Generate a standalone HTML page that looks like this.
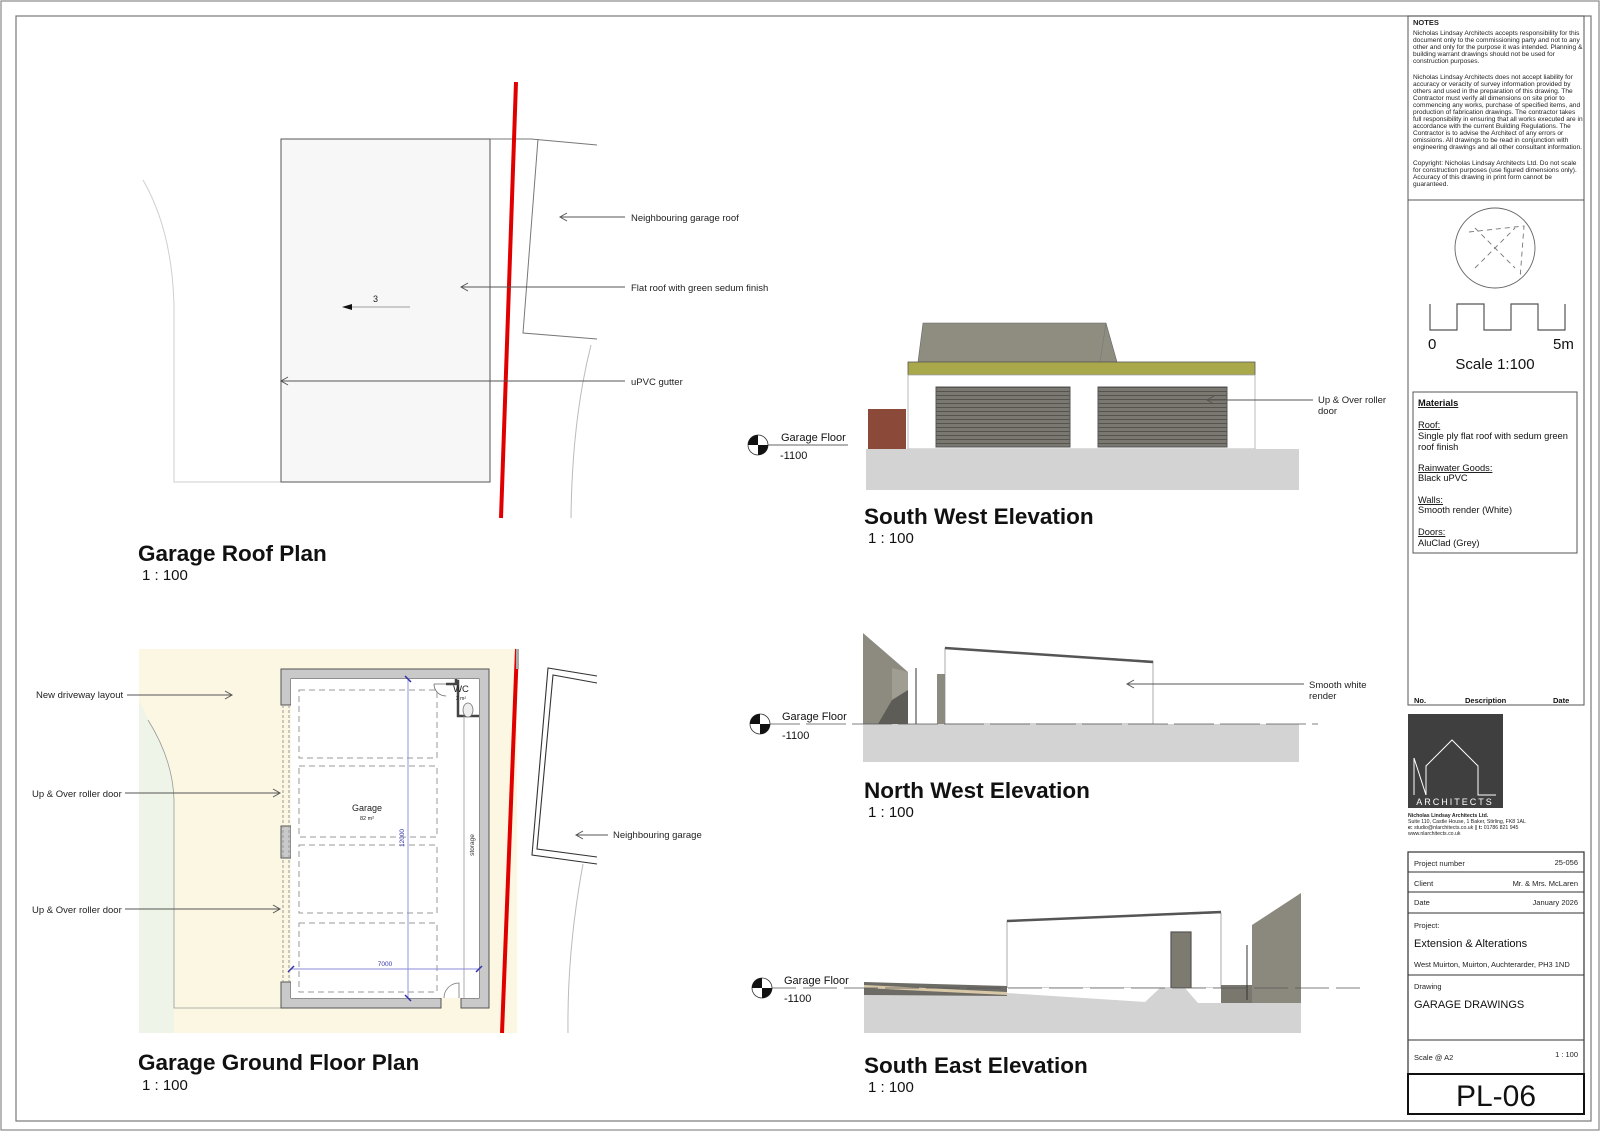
<!DOCTYPE html>
<html><head><meta charset="utf-8"><style>
html,body{margin:0;padding:0;background:#fff;}
svg{display:block;font-family:"Liberation Sans",Arial,sans-serif;}
</style></head><body>
<svg width="1600" height="1131" viewBox="0 0 1600 1131" xmlns="http://www.w3.org/2000/svg">
<defs>
<marker id="oa" markerWidth="10" markerHeight="10" refX="1" refY="5" orient="auto" markerUnits="userSpaceOnUse"><path d="M8,1 L1,5 L8,9" fill="none" stroke="#555" stroke-width="1"/></marker>
<marker id="ob" markerWidth="10" markerHeight="10" refX="8" refY="5" orient="auto" markerUnits="userSpaceOnUse"><path d="M1,1 L8,5 L1,9" fill="none" stroke="#555" stroke-width="1"/></marker>
<pattern id="stripe" width="6" height="4" patternUnits="userSpaceOnUse"><rect width="6" height="4" fill="#7a7870"/><rect y="3" width="6" height="1" fill="#55534d"/></pattern>
</defs>
<rect x="1" y="1" width="1598" height="1129" fill="none" stroke="#888" stroke-width="1.2"/>
<rect x="16" y="16" width="1575" height="1105" fill="none" stroke="#777" stroke-width="1.2"/>

<!-- ROOF PLAN -->
<path d="M143,180 Q172,230 174,305 L174,482 L281,482" fill="none" stroke="#cfcfcf" stroke-width="1"/>
<rect x="281" y="139" width="209" height="343" fill="#f7f7f7" stroke="#555" stroke-width="1"/>
<path d="M490,139 L531,139 L597,145 M538,139 L523,333 L597,339" fill="none" stroke="#777" stroke-width="1"/>
<path d="M591,345 Q572,420 571,518" fill="none" stroke="#bbb" stroke-width="1"/>
<line x1="516" y1="82" x2="501" y2="518" stroke="#e00000" stroke-width="4"/>
<g stroke="#555" stroke-width="0.9" fill="none">
<line x1="560" y1="217" x2="625" y2="217" marker-start="url(#oa)"/>
<line x1="461" y1="287" x2="625" y2="287" marker-start="url(#oa)"/>
<line x1="281" y1="381" x2="625" y2="381" marker-start="url(#oa)"/>
</g>
<line x1="350" y1="307" x2="410" y2="307" stroke="#bbb" stroke-width="1.5"/>
<path d="M342,307 L352,304 L352,310 Z" fill="#111"/>
<text x="373" y="302" font-size="9" fill="#222">3</text>
<g font-size="9.5" fill="#222">
<text x="631" y="221">Neighbouring garage roof</text>
<text x="631" y="291">Flat roof with green sedum finish</text>
<text x="631" y="385">uPVC gutter</text>
</g>
<text x="138" y="561" font-size="22.5" font-weight="bold" fill="#111">Garage Roof Plan</text>
<text x="142" y="580" font-size="15" fill="#111">1 : 100</text>

<!-- GROUND FLOOR PLAN -->
<rect x="139" y="649" width="378" height="384" fill="#fbf7e3"/>
<path d="M139,700 L148,720 Q173,760 174,800 L174,1033 L139,1033 Z" fill="#eef5e8"/>
<path d="M148,720 Q173,760 174,800 L174,1008 L281,1008" fill="none" stroke="#999" stroke-width="0.8"/>
<path d="M281,669 H489 V1008 H461 V998 H479 V679 H291 V705 H281 Z" fill="#c9c9c9" stroke="#555" stroke-width="1"/>
<path d="M281,982 H291 V998 H441 V1008 H281 Z" fill="#c9c9c9" stroke="#555" stroke-width="1"/>
<rect x="281" y="826" width="10" height="32" fill="#c9c9c9" stroke="#555" stroke-width="1"/>
<rect x="291" y="679" width="188" height="319" fill="#fff"/>
<g stroke="#999" stroke-width="1" stroke-dasharray="3,2"><line x1="283" y1="705" x2="283" y2="982"/><line x1="289" y1="705" x2="289" y2="982"/></g>
<path d="M441,1008 V998 M461,1008 V998" stroke="#555"/>
<path d="M444,998 A15,15 0 0 1 459,983 V998" fill="none" stroke="#777" stroke-width="0.8"/>
<path d="M446,684 H456 V679 M456,681 H458 V716 H479" fill="none" stroke="#444" stroke-width="2.5"/>
<path d="M446,684 H434 M434,684 A12,12 0 0 0 446,696" fill="none" stroke="#666" stroke-width="0.8"/>
<ellipse cx="468" cy="710" rx="5" ry="7" fill="#eee" stroke="#777" stroke-width="0.8"/>
<text x="461" y="692" font-size="9.5" text-anchor="middle" fill="#222">WC</text>
<text x="461" y="700" font-size="5" text-anchor="middle" fill="#222">2 m²</text>
<line x1="464" y1="716" x2="464" y2="998" stroke="#999" stroke-width="0.8"/>
<text transform="translate(474,845) rotate(-90)" font-size="6.5" fill="#333" text-anchor="middle">storage</text>
<g fill="none" stroke="#999" stroke-width="1" stroke-dasharray="6,4">
<rect x="299" y="690" width="138" height="68"/>
<rect x="299" y="766" width="138" height="71"/>
<rect x="299" y="845" width="138" height="68"/>
<rect x="299" y="923" width="138" height="69"/>
</g>
<g stroke="#8a8ad8" stroke-width="0.9">
<line x1="408" y1="679" x2="408" y2="998"/><line x1="291" y1="969" x2="479" y2="969"/>
<line x1="405" y1="676" x2="411" y2="682" stroke="#3333aa" stroke-width="1.5"/><line x1="405" y1="995" x2="411" y2="1001" stroke="#3333aa" stroke-width="1.5"/>
<line x1="288" y1="972" x2="294" y2="966" stroke="#3333aa" stroke-width="1.5"/><line x1="476" y1="972" x2="482" y2="966" stroke="#3333aa" stroke-width="1.5"/>
</g>
<text transform="translate(404,838) rotate(-90)" font-size="6.5" fill="#3333aa" text-anchor="middle">12000</text>
<text x="385" y="966" font-size="6.5" fill="#3333aa" text-anchor="middle">7000</text>
<text x="367" y="811" font-size="9" text-anchor="middle" fill="#222">Garage</text>
<text x="367" y="820" font-size="5.5" text-anchor="middle" fill="#222">82 m²</text>
<line x1="517" y1="649" x2="502" y2="1033" stroke="#e00000" stroke-width="4"/>
<rect x="516" y="649" width="3" height="20" fill="#aaa"/>
<path d="M597,676 L548,668 L532,855 L597,864 M597,683 L553,675 L537,849 L597,857" fill="none" stroke="#333" stroke-width="1.1"/>
<path d="M583,864 Q567,950 568,1033" fill="none" stroke="#bbb" stroke-width="1"/>
<g stroke="#555" stroke-width="0.9" fill="none">
<line x1="127" y1="695" x2="232" y2="695" marker-end="url(#ob)"/>
<line x1="125" y1="793" x2="280" y2="793" marker-end="url(#ob)"/>
<line x1="125" y1="909" x2="280" y2="909" marker-end="url(#ob)"/>
<line x1="576" y1="835" x2="608" y2="835" marker-start="url(#oa)"/>
</g>
<g font-size="9.5" fill="#222">
<text x="36" y="698">New driveway layout</text>
<text x="32" y="797">Up &amp; Over roller door</text>
<text x="32" y="913">Up &amp; Over roller door</text>
<text x="613" y="838">Neighbouring garage</text>
</g>
<text x="138" y="1070" font-size="22.5" font-weight="bold" fill="#111">Garage Ground Floor Plan</text>
<text x="142" y="1090" font-size="15" fill="#111">1 : 100</text>

<!-- SOUTH WEST ELEVATION -->
<path d="M918,362 L923,323 L1106,323 L1117,362 Z" fill="#8f8c80" stroke="#666" stroke-width="0.6"/>
<path d="M1106,323 L1100,362" stroke="#777" stroke-width="0.6"/>
<rect x="908" y="362" width="347" height="13" fill="#a9a94c" stroke="#555" stroke-width="0.8"/>
<rect x="908" y="375" width="347" height="74" fill="#fff" stroke="#aaa" stroke-width="0.8"/>
<rect x="936" y="387" width="134" height="60" fill="url(#stripe)" stroke="#555" stroke-width="1"/>
<rect x="1098" y="387" width="129" height="60" fill="url(#stripe)" stroke="#555" stroke-width="1"/>
<rect x="868" y="409" width="38" height="40" fill="#8b4a39"/>
<rect x="866" y="449" width="433" height="41" fill="#d3d3d3"/>
<line x1="758" y1="445" x2="848" y2="445" stroke="#333" stroke-width="0.8"/>
<g stroke="#555" stroke-width="0.9" fill="none"><line x1="1207" y1="400" x2="1313" y2="400" marker-start="url(#oa)"/></g>
<text x="1318" y="403" font-size="9.5" fill="#222">Up &amp; Over roller</text>
<text x="1318" y="414" font-size="9.5" fill="#222">door</text>
<text x="781" y="441" font-size="11" fill="#111">Garage Floor</text>
<text x="780" y="459" font-size="11" fill="#111">-1100</text>
<text x="864" y="524" font-size="22.5" font-weight="bold" fill="#111">South West Elevation</text>
<text x="868" y="543" font-size="15" fill="#111">1 : 100</text>

<!-- NORTH WEST ELEVATION -->
<path d="M863,633 L908,672 L908,724 L863,724 Z" fill="#8d8a80"/>
<path d="M892,668 L908,672 L908,724 L892,724 Z" fill="#a09d93"/>
<path d="M892,700 L908,690 L908,724 L878,724 Z" fill="#5e5c57"/>
<rect x="937" y="674" width="8" height="50" fill="#8d8a80"/>
<line x1="916" y1="668" x2="916" y2="724" stroke="#333" stroke-width="1"/>
<path d="M945,648 L1153,661 L1153,724 L945,724 Z" fill="#fff" stroke="#888" stroke-width="0.7"/>
<line x1="945" y1="648" x2="1153" y2="662" stroke="#555" stroke-width="2.5"/>
<rect x="863" y="724" width="436" height="38" fill="#d3d3d3"/>
<line x1="760" y1="724" x2="1318" y2="724" stroke="#555" stroke-width="0.8" stroke-dasharray="40,6"/>
<g stroke="#555" stroke-width="0.9" fill="none"><line x1="1127" y1="684" x2="1304" y2="684" marker-start="url(#oa)"/></g>
<text x="1309" y="688" font-size="9.5" fill="#222">Smooth white</text>
<text x="1309" y="699" font-size="9.5" fill="#222">render</text>
<text x="782" y="720" font-size="11" fill="#111">Garage Floor</text>
<text x="782" y="739" font-size="11" fill="#111">-1100</text>
<text x="864" y="798" font-size="22.5" font-weight="bold" fill="#111">North West Elevation</text>
<text x="868" y="817" font-size="15" fill="#111">1 : 100</text>

<!-- SOUTH EAST ELEVATION -->
<path d="M1007,921 L1221,913 L1221,988 L1007,988 Z" fill="#fff" stroke="#888" stroke-width="0.7"/>
<line x1="1007" y1="921" x2="1221" y2="912" stroke="#555" stroke-width="2.5"/>
<rect x="1171" y="932" width="20" height="56" fill="#7d7b70" stroke="#555" stroke-width="1.2"/>
<rect x="864" y="988" width="437" height="45" fill="#d3d3d3"/>
<path d="M864,982 L1007,986 L1007,996 L864,995 Z" fill="#6d6b65"/>
<path d="M864,988 L1007,995 L1007,992 L864,985 Z" fill="#d8c8a8"/>
<path d="M1007,993 L1145,1002 L1160,988 L1185,988 L1198,1003 L1221,1003 L1221,988 L1007,988 Z" fill="#fff"/>
<path d="M1252,925 L1301,893 L1301,1003 L1252,1003 Z" fill="#8b887e"/>
<rect x="1221" y="985" width="31" height="18" fill="#7a776e"/>
<line x1="1247" y1="945" x2="1247" y2="1000" stroke="#333" stroke-width="1"/>
<line x1="762" y1="988" x2="1360" y2="988" stroke="#555" stroke-width="0.8" stroke-dasharray="34,7"/>
<text x="784" y="984" font-size="11" fill="#111">Garage Floor</text>
<text x="784" y="1002" font-size="11" fill="#111">-1100</text>
<text x="864" y="1073" font-size="22.5" font-weight="bold" fill="#111">South East Elevation</text>
<text x="868" y="1092" font-size="15" fill="#111">1 : 100</text>

<g>
<g transform="translate(758,445)"><circle r="10" fill="#fff" stroke="#333" stroke-width="0.8"/><path d="M0,0 V-10 A10,10 0 0 0 -10,0 Z M0,0 V10 A10,10 0 0 0 10,0 Z" fill="#111"/></g>
<g transform="translate(760,724)"><circle r="10" fill="#fff" stroke="#333" stroke-width="0.8"/><path d="M0,0 V-10 A10,10 0 0 0 -10,0 Z M0,0 V10 A10,10 0 0 0 10,0 Z" fill="#111"/></g>
<g transform="translate(762,988)"><circle r="10" fill="#fff" stroke="#333" stroke-width="0.8"/><path d="M0,0 V-10 A10,10 0 0 0 -10,0 Z M0,0 V10 A10,10 0 0 0 10,0 Z" fill="#111"/></g>
</g>

<!-- TITLE BLOCK -->
<rect x="1408" y="16" width="176" height="689" fill="none" stroke="#555" stroke-width="1"/>
<line x1="1408" y1="200" x2="1584" y2="200" stroke="#555" stroke-width="1"/>
<g font-size="6.6" fill="#222">
<text x="1413" y="25" font-weight="bold" font-size="7.5">NOTES</text>
<text x="1413" y="35">Nicholas Lindsay Architects accepts responsibility for this</text>
<text x="1413" y="42">document only to the commissioning party and not to any</text>
<text x="1413" y="49">other and only for the purpose it was intended. Planning &amp;</text>
<text x="1413" y="56">building warrant drawings should not be used for</text>
<text x="1413" y="63">construction purposes.</text>
<text x="1413" y="79">Nicholas Lindsay Architects does not accept liability for</text>
<text x="1413" y="86">accuracy or veracity of survey information provided by</text>
<text x="1413" y="93">others and used in the preparation of this drawing.  The</text>
<text x="1413" y="100">Contractor must verify all dimensions on site prior to</text>
<text x="1413" y="107">commencing any works, purchase of specified items, and</text>
<text x="1413" y="114">production of fabrication drawings. The contractor takes</text>
<text x="1413" y="121">full responsibility in ensuring that all works executed are in</text>
<text x="1413" y="128">accordance with the current Building Regulations. The</text>
<text x="1413" y="135">Contractor is to advise the Architect of any errors or</text>
<text x="1413" y="142">omissions. All drawings to be read in conjunction with</text>
<text x="1413" y="149">engineering drawings and all other consultant information.</text>
<text x="1413" y="165">Copyright:  Nicholas Lindsay Architects Ltd. Do not scale</text>
<text x="1413" y="172">for construction purposes (use figured dimensions only).</text>
<text x="1413" y="179">Accuracy of this drawing in print form cannot be</text>
<text x="1413" y="186">guaranteed.</text>
</g>
<circle cx="1495" cy="248" r="40" fill="none" stroke="#666" stroke-width="0.9"/>
<g stroke="#777" stroke-width="0.9" stroke-dasharray="5,4" fill="none">
<path d="M1469,232 L1524,226 L1520,279"/>
<path d="M1475,268 L1515,228 M1475,228 L1515,268"/>
</g>
<path d="M1430,304 V330 H1457 V304 H1484 V330 H1511 V304 H1538 V330 H1565 V304" fill="none" stroke="#555" stroke-width="1.2"/>
<text x="1428" y="349" font-size="15" fill="#111">0</text>
<text x="1553" y="349" font-size="15" fill="#111">5m</text>
<text x="1495" y="369" font-size="15" fill="#111" text-anchor="middle">Scale 1:100</text>
<rect x="1413" y="392" width="164" height="161" fill="none" stroke="#555" stroke-width="1"/>
<g font-size="9.3" fill="#111">
<text x="1418" y="406" font-weight="bold" text-decoration="underline">Materials</text>
<text x="1418" y="428" text-decoration="underline">Roof:</text>
<text x="1418" y="439">Single ply flat roof with sedum green</text>
<text x="1418" y="450">roof finish</text>
<text x="1418" y="471" text-decoration="underline">Rainwater Goods:</text>
<text x="1418" y="481">Black uPVC</text>
<text x="1418" y="503" text-decoration="underline">Walls:</text>
<text x="1418" y="513">Smooth render (White)</text>
<text x="1418" y="535" text-decoration="underline">Doors:</text>
<text x="1418" y="546">AluClad (Grey)</text>
</g>
<g font-size="7.5" font-weight="bold" fill="#111">
<text x="1414" y="703">No.</text><text x="1465" y="703">Description</text><text x="1553" y="703">Date</text>
</g>
<rect x="1408" y="714" width="95" height="94" fill="#3f3f3f"/>
<path d="M1414,758 L1426,795 M1414,758 V795 M1426,795 V766 L1452,740 L1478,766 V795 H1496" fill="none" stroke="#fff" stroke-width="1"/>
<text x="1455" y="805" font-size="9" fill="#fff" text-anchor="middle" letter-spacing="2">ARCHITECTS</text>
<g font-size="5.2" fill="#222">
<text x="1408" y="817" font-weight="bold">Nicholas Lindsay Architects Ltd.</text>
<text x="1408" y="823">Suite 110, Castle House, 1 Baker, Stirling, FK8 1AL</text>
<text x="1408" y="829"><tspan font-weight="bold">e:</tspan> studio@nlarchitects.co.uk  ||  <tspan font-weight="bold">t:</tspan> 01786 821 945</text>
<text x="1408" y="835">www.nlarchitects.co.uk</text>
</g>
<rect x="1408" y="852" width="176" height="262" fill="none" stroke="#333" stroke-width="1.2"/>
<g stroke="#333" stroke-width="1">
<line x1="1408" y1="872" x2="1584" y2="872"/><line x1="1408" y1="892" x2="1584" y2="892"/><line x1="1408" y1="913" x2="1584" y2="913"/>
<line x1="1408" y1="975" x2="1584" y2="975"/><line x1="1408" y1="1040" x2="1584" y2="1040"/>
</g>
<rect x="1408" y="1074" width="176" height="40" fill="none" stroke="#111" stroke-width="2"/>
<g font-size="7.5" fill="#222">
<text x="1414" y="866">Project number</text><text x="1578" y="865" text-anchor="end">25-056</text>
<text x="1414" y="886">Client</text><text x="1578" y="886" text-anchor="end">Mr. &amp; Mrs. McLaren</text>
<text x="1414" y="905">Date</text><text x="1578" y="905" text-anchor="end">January 2026</text>
<text x="1414" y="928">Project:</text>
<text x="1414" y="967">West Muirton, Muirton, Auchterarder, PH3 1ND</text>
<text x="1414" y="989">Drawing</text>
<text x="1414" y="1060">Scale @ A2</text><text x="1578" y="1057" text-anchor="end">1 : 100</text>
</g>
<text x="1414" y="947" font-size="11" fill="#111">Extension &amp; Alterations</text>
<text x="1414" y="1008" font-size="11" fill="#111">GARAGE DRAWINGS</text>
<text x="1496" y="1106" font-size="30" fill="#111" text-anchor="middle">PL-06</text>
</svg>
</body></html>
